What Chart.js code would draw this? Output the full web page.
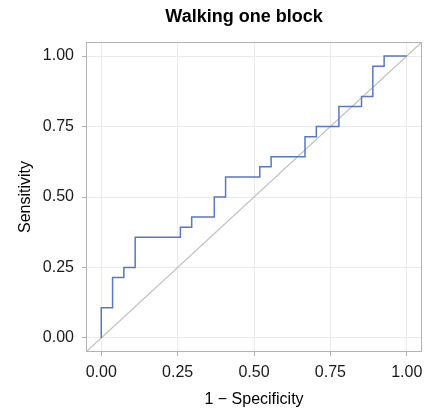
<!DOCTYPE html>
<html>
<head>
<meta charset="utf-8">
<style>
  html, body { margin: 0; padding: 0; background: #fff; }
  canvas { display: block; }
</style>
<script src="https://cdn.jsdelivr.net/npm/chart.js@4/dist/chart.umd.min.js"></script>
</head>
<body>
<canvas id="roc" width="424" height="408"></canvas>
<script>
// ROC curve corners
const fpr = [0, 0, 0.037, 0.037, 0.074, 0.074, 0.111, 0.111, 0.259, 0.259, 0.296, 0.296,
  0.370, 0.370, 0.407, 0.407, 0.519, 0.519, 0.556, 0.556, 0.667, 0.667, 0.704, 0.704,
  0.778, 0.778, 0.852, 0.852, 0.889, 0.889, 0.926, 0.926, 1];
const tpr = [0, 0.107, 0.107, 0.214, 0.214, 0.25, 0.25, 0.357, 0.357, 0.393, 0.393, 0.429,
  0.429, 0.5, 0.5, 0.571, 0.571, 0.607, 0.607, 0.643, 0.643, 0.714, 0.714, 0.75,
  0.75, 0.821, 0.821, 0.857, 0.857, 0.964, 0.964, 1, 1];
// reference line y = x, across the whole panel
const diagX = [-0.05, 1.05];
const diagY = [-0.05, 1.05];
const tickValues = [0, 0.25, 0.5, 0.75, 1];

const FONT = '"Liberation Sans", Arial, Helvetica, sans-serif';

// panel border + title
const panelPlugin = {
  id: 'panel',
  afterDraw(chart) {
    const { ctx, chartArea: a } = chart;
    ctx.save();
    ctx.strokeStyle = '#b3b3b3';
    ctx.lineWidth = 1;
    ctx.strokeRect(a.left + 0.5, a.top + 0.5, a.right - a.left - 1, a.bottom - a.top - 1);
    ctx.fillStyle = '#000';
    ctx.font = 'bold 18px ' + FONT;
    ctx.textAlign = 'center';
    ctx.textBaseline = 'middle';
    ctx.fillText('Walking one block', 244, 17);
    ctx.restore();
  }
};

const axisCommon = {
  type: 'linear',
  min: -0.05,
  max: 1.05,
  afterBuildTicks: (scale) => { scale.ticks = tickValues.map(v => ({ value: v })); },
  grid: { color: '#ebebeb', lineWidth: 1, tickLength: 4, tickColor: '#b3b3b3', drawTicks: true },
  border: { display: false },
  ticks: {
    color: '#1a1a1a',
    font: { family: FONT, size: 16 },
    callback: (v) => Number(v).toFixed(2)
  }
};

new Chart(document.getElementById('roc'), {
  type: 'scatter',
  data: {
    datasets: [
      {
        data: fpr.map((x, i) => ({ x, y: tpr[i] })),
        showLine: true,
        borderColor: '#5877c4',
        borderWidth: 1.5,
        pointRadius: 0,
        order: 0
      },
      {
        data: diagX.map((x, i) => ({ x, y: diagY[i] })),
        showLine: true,
        borderColor: '#bdbdbd',
        borderWidth: 1.2,
        pointRadius: 0,
        order: 1
      }
    ]
  },
  options: {
    responsive: false,
    animation: false,
    layout: { padding: { top: 42, right: 2, left: 0, bottom: 0 } },
    plugins: { legend: { display: false }, tooltip: { enabled: false } },
    scales: {
      x: {
        ...axisCommon,
        position: 'bottom',
        afterFit: (s) => { s.height = 56; s.paddingLeft = 0; s.paddingRight = 0; },
        ticks: { ...axisCommon.ticks, padding: 7, maxRotation: 0 },
        title: {
          display: true,
          text: '1 \u2212 Specificity',
          color: '#000',
          font: { family: FONT, size: 16, lineHeight: 1 },
          padding: { top: 0, bottom: 0 }
        }
      },
      y: {
        ...axisCommon,
        position: 'left',
        afterFit: (s) => { s.width = 86; s.paddingTop = 0; s.paddingBottom = 0; },
        ticks: { ...axisCommon.ticks, padding: 8 },
        title: {
          display: true,
          text: 'Sensitivity',
          color: '#000',
          font: { family: FONT, size: 16, lineHeight: 1 },
          padding: { top: 18, bottom: 0 }
        }
      }
    }
  },
  plugins: [panelPlugin]
});
</script>
</body>
</html>
